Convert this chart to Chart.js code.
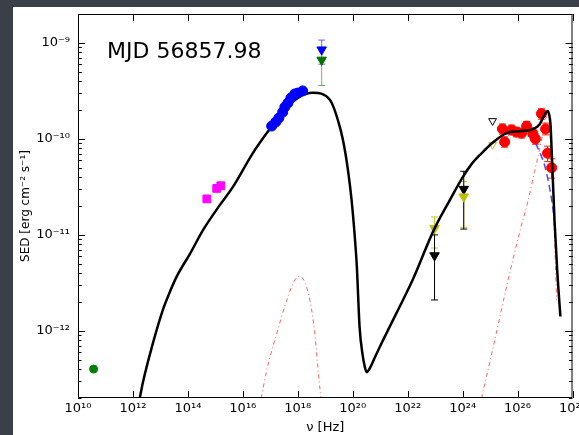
<!DOCTYPE html>
<html>
<head>
<meta charset="utf-8">
<script src="https://cdn.jsdelivr.net/npm/chart.js@4/dist/chart.umd.min.js"></script>
<style>
  html, body { margin: 0; padding: 0; background: #3b4048; }
  #wrap { width: 579px; height: 435px; }
</style>
</head>
<body>
<div id="wrap"><canvas id="chart" width="579" height="435"></canvas></div>
<script>
// ── Axes ─────────────────────────────────────────────────────────
const xTicks = [1e10, 1e12, 1e14, 1e16, 1e18, 1e20, 1e22, 1e24, 1e26, 1e28];
const yTicks = [1e-12, 1e-11, 1e-10, 1e-9];
const label  = "MJD 56857.98";

// ── Model curves (log10 nu, log10 SED) ───────────────────────────
const modelLogNu  = [12.25, 12.36, 12.73, 13.09, 13.35, 13.6, 14.07, 14.55, 15.16, 15.64, 16.36, 16.87, 17.45, 18.07, 18.55, 19.16, 19.53, 19.71, 19.85, 19.96, 20.07, 20.15, 20.25, 20.36, 20.44, 20.51, 20.62, 20.8, 20.98, 21.6, 22.18, 22.95, 23.53, 24.0, 24.36, 24.62, 25.09, 25.6, 26.07, 26.55, 26.8, 26.98, 27.09, 27.16, 27.2, 27.24, 27.35, 27.45, 27.56];
const modelLogSed = [-12.70, -12.54, -12.125, -11.78, -11.59, -11.43, -11.20, -10.95, -10.69, -10.5, -10.15, -9.94, -9.72, -9.56, -9.52, -9.59, -9.875, -10.11, -10.375, -10.64, -11.0, -11.33, -11.96, -12.25, -12.375, -12.43, -12.39, -12.28, -12.17, -11.81, -11.47, -10.95, -10.64, -10.40, -10.25, -10.17, -10.04, -9.94, -9.92, -9.9, -9.85, -9.75, -9.71, -9.76, -9.85, -10.11, -10.875, -11.4, -11.85];

const ecLowLogNu   = [16.67, 16.87, 17.24, 17.6, 17.89, 18.07, 18.25, 18.44, 18.62, 18.73, 18.84];
const ecLowLogSed  = [-12.70, -12.41, -12.02, -11.68, -11.47, -11.43, -11.49, -11.68, -12.02, -12.375, -12.70];
const ecHighLogNu  = [24.69, 25.09, 25.6, 26.07, 26.36, 26.62, 26.8, 26.95, 27.05, 27.13, 27.2, 27.27, 27.35, 27.42];
const ecHighLogSed = [-12.70, -12.2, -11.54, -10.98, -10.67, -10.34, -10.11, -9.9, -9.77, -9.78, -10.01, -10.43, -11.05, -11.68];
const sscLogNu     = [25.6, 25.89, 26.33, 26.62, 26.8, 26.98, 27.16, 27.27, 27.38];
const sscLogSed    = [-9.95, -9.93, -9.96, -10.03, -10.135, -10.27, -10.5, -10.69, -10.95];

// ── Observations ─────────────────────────────────────────────────
const radioNu = [3.7e10];
const radioSed = [4.0e-13];

const optNu  = [4.9e14, 1.12e15, 1.58e15];
const optSed = [2.37e-11, 3.05e-11, 3.25e-11];

const xrayNu  = [1.12e17, 1.58e17, 2.04e17, 2.82e17, 3.39e17, 4.37e17, 5.62e17, 7.76e17, 1.0e18, 1.51e18];
const xraySed = [1.36e-10, 1.5e-10, 1.65e-10, 1.9e-10, 2.15e-10, 2.37e-10, 2.67e-10, 2.94e-10, 3.0e-10, 3.16e-10];

const batNu = [7.4e18];
const batBlueSed = [8.5e-10],  batBlueLo = [6.0e-10],  batBlueHi = [1.07e-9];
const batGreenSed = [6.65e-10], batGreenLo = [3.6e-10], batGreenHi = [6.65e-10];

const latNu = [9.5e22, 1.1e24];
const latYellowSed = [1.17e-11, 2.5e-11], latYellowLo = [7.3e-12, 1.2e-11],  latYellowHi = [1.54e-11, 3.6e-11];
const latBlackSed  = [6.1e-12, 3.0e-11],  latBlackLo  = [2.1e-12, 1.15e-11], latBlackHi  = [1.0e-11, 4.6e-11];

const ulNu = [1.23e25];
const ulBlackSed = [1.54e-10];
const ulYellowSed = [8.7e-11];

const vhsNu  = [2.82e25, 3.39e25, 6.03e25, 9.12e25, 1.41e26, 2.14e26, 3.55e26, 4.47e26, 7.41e26, 1.05e27, 1.23e27, 1.74e27];
const vhsSed = [1.27e-10, 9.3e-11, 1.24e-10, 1.18e-10, 1.15e-10, 1.36e-10, 1.15e-10, 1.0e-10, 1.83e-10, 1.27e-10, 7.1e-11, 5.0e-11];
const vhsLo  = [1.12e-10, 8.2e-11, 1.1e-10, 1.05e-10, 1.02e-10, 1.2e-10, 1.0e-10, 8.8e-11, 1.6e-10, 1.1e-10, 5.8e-11, 3.9e-11];
const vhsHi  = [1.43e-10, 1.05e-10, 1.39e-10, 1.32e-10, 1.29e-10, 1.52e-10, 1.3e-10, 1.13e-10, 2.06e-10, 1.46e-10, 8.4e-11, 6.2e-11];
const vhsNuLo = [2.2e25, 2.6e25, 4.6e25, 7.0e25, 1.08e26, 1.64e26, 2.7e26, 3.4e26, 5.7e26, 8.1e26, 9.5e26, 1.35e27];
const vhsNuHi = [3.6e25, 4.4e25, 7.9e25, 1.19e26, 1.84e26, 2.8e26, 4.6e26, 5.8e26, 9.6e26, 1.36e27, 1.6e27, 2.25e27];

// ── Helpers ──────────────────────────────────────────────────────
const SUP = { "-": "\u207B", "0": "\u2070", "1": "\u00B9", "2": "\u00B2", "3": "\u00B3", "4": "\u2074",
              "5": "\u2075", "6": "\u2076", "7": "\u2077", "8": "\u2078", "9": "\u2079" };
function pow10Label(v) {
  const e = String(Math.round(Math.log10(v)));
  return "10" + e.split("").map(c => SUP[c]).join("");
}
const pts    = (xs, ys) => xs.map((x, i) => ({ x, y: ys[i] }));
const logPts = (xs, ys) => xs.map((x, i) => ({ x: Math.pow(10, x), y: Math.pow(10, ys[i]) }));

const FONT = "'DejaVu Sans', sans-serif";

// ── Plugins ──────────────────────────────────────────────────────
const panel = {
  id: "panel",
  beforeDraw(chart) {
    const ctx = chart.ctx;
    ctx.save();
    ctx.fillStyle = "#ffffff";
    ctx.fillRect(13, 7, chart.width - 13, chart.height - 7);
    ctx.restore();
  }
};

const errorBars = {
  id: "errorBars",
  beforeDatasetsDraw(chart) {
    const { ctx, chartArea, scales: { x, y } } = chart;
    ctx.save();
    ctx.beginPath();
    ctx.rect(chartArea.left, chartArea.top, chartArea.right - chartArea.left, chartArea.bottom - chartArea.top);
    ctx.clip();
    ctx.lineWidth = 1;
    chart.data.datasets.forEach(ds => {
      const e = ds.errBars;
      if (!e) return;
      ctx.strokeStyle = e.color;
      ds.data.forEach((p, i) => {
        const px = x.getPixelForValue(p.x);
        const py = y.getPixelForValue(p.y);
        if (e.lo) {
          const y1 = y.getPixelForValue(e.lo[i]), y2 = y.getPixelForValue(e.hi[i]);
          ctx.beginPath();
          ctx.moveTo(px, y1); ctx.lineTo(px, y2);
          ctx.moveTo(px - 3.5, y1); ctx.lineTo(px + 3.5, y1);
          ctx.moveTo(px - 3.5, y2); ctx.lineTo(px + 3.5, y2);
          ctx.stroke();
        }
        if (e.xlo) {
          const x1 = x.getPixelForValue(e.xlo[i]), x2 = x.getPixelForValue(e.xhi[i]);
          ctx.beginPath();
          ctx.moveTo(x1, py); ctx.lineTo(x2, py);
          ctx.stroke();
        }
      });
    });
    ctx.restore();
  }
};

const frame = {
  id: "frame",
  afterDatasetsDraw(chart) {
    const { ctx, chartArea: a, scales: { x, y } } = chart;
    ctx.save();
    ctx.strokeStyle = "#000";
    ctx.lineWidth = 1;
    ctx.strokeRect(a.left + 0.5, a.top + 0.5, a.right - a.left - 1, a.bottom - a.top - 1);
    ctx.beginPath();
    xTicks.forEach(v => {
      const px = Math.round(x.getPixelForValue(v)) + 0.5;
      ctx.moveTo(px, a.bottom); ctx.lineTo(px, a.bottom - 7);
      ctx.moveTo(px, a.top);    ctx.lineTo(px, a.top + 7);
    });
    yTicks.forEach(v => {
      for (let m = 1; m <= 9; m++) {
        [v * m, v * m / 10].forEach(t => {
          if (t < y.min || t > y.max) return;
          const py = Math.round(y.getPixelForValue(t)) + 0.5;
          const len = m === 1 ? 7 : 3.5;
          ctx.moveTo(a.left, py);  ctx.lineTo(a.left + len, py);
          ctx.moveTo(a.right, py); ctx.lineTo(a.right - len, py);
        });
      }
    });
    ctx.stroke();
    ctx.fillStyle = "#000";
    ctx.font = "22px " + FONT;
    ctx.textBaseline = "alphabetic";
    ctx.fillText(label, 107, 58);
    ctx.restore();
  }
};

// ── Chart ────────────────────────────────────────────────────────
const lineDs = (lbl, data, color, width, dash, order) => ({
  label: lbl, data, showLine: true, pointRadius: 0, borderColor: color,
  borderWidth: width, borderDash: dash, cubicInterpolationMode: "monotone", order
});
const markDs = (lbl, data, style, color, radius, order, errBars, fill) => ({
  label: lbl, data, pointStyle: style, pointRadius: radius, pointHoverRadius: radius,
  backgroundColor: fill || color, borderColor: color, borderWidth: 1,
  pointRotation: style === "triangle" ? 180 : 0, order, errBars
});

new Chart(document.getElementById("chart"), {
  type: "scatter",
  data: {
    datasets: [
      lineDs("Total model", logPts(modelLogNu, modelLogSed), "#000000", 2.5, [], 1),
      lineDs("EC (low)",  logPts(ecLowLogNu, ecLowLogSed), "rgba(255,40,40,0.75)", 1, [4, 3, 1, 3], 5),
      lineDs("EC (high)", logPts(ecHighLogNu, ecHighLogSed), "rgba(255,40,40,0.75)", 1, [4, 3, 1, 3], 5),
      lineDs("SSC", logPts(sscLogNu, sscLogSed), "rgba(40,40,255,0.85)", 1.5, [7, 4], 4),
      markDs("Radio", pts(radioNu, radioSed), "circle", "#008000", 4, 2),
      markDs("Optical", pts(optNu, optSed), "rect", "#ff00ff", 5.5, 2),
      markDs("X-ray", pts(xrayNu, xraySed), "circle", "#0000ff", 5, 0),
      markDs("BAT blue", pts(batNu, batBlueSed), "triangle", "#0000ff", 5.5, 2,
             { color: "rgba(0,0,255,0.6)", lo: batBlueLo, hi: batBlueHi }),
      markDs("BAT green", pts(batNu, batGreenSed), "triangle", "#007000", 5.5, 2,
             { color: "rgba(0,140,0,0.6)", lo: batGreenLo, hi: batGreenHi }),
      markDs("LAT yellow", pts(latNu, latYellowSed), "triangle", "#bfbf00", 5.5, 2,
             { color: "#c8c820", lo: latYellowLo, hi: latYellowHi }),
      markDs("LAT black", pts(latNu, latBlackSed), "triangle", "#000000", 5.5, 2,
             { color: "#000000", lo: latBlackLo, hi: latBlackHi }),
      markDs("UL black", pts(ulNu, ulBlackSed), "triangle", "#000000", 4.5, 2, null, "#ffffff"),
      markDs("UL yellow", pts(ulNu, ulYellowSed), "triangle", "#bfbf00", 4.5, 2, null, "#ffffff"),
      markDs("VHE", pts(vhsNu, vhsSed), "circle", "#ff0000", 5, 2,
             { color: "#ff2020", lo: vhsLo, hi: vhsHi, xlo: vhsNuLo, xhi: vhsNuHi })
    ]
  },
  options: {
    responsive: false,
    animation: false,
    layout: { padding: { left: 0, right: 6, top: 14, bottom: 0 } },
    plugins: { legend: { display: false }, tooltip: { enabled: false } },
    scales: {
      x: {
        type: "logarithmic", min: 1e10, max: 1e28,
        afterBuildTicks: s => { s.ticks = xTicks.map(v => ({ value: v })); },
        afterFit: s => { s.height = 37; s.paddingLeft = 0; s.paddingRight = 0; },
        grid: { display: false, drawTicks: false },
        border: { display: false },
        ticks: { callback: v => pow10Label(v), color: "#000", font: { family: FONT, size: 13 },
                 padding: 3, maxRotation: 0, autoSkip: false },
        title: { display: true, text: "\u03BD [Hz]", color: "#000", font: { family: FONT, size: 13 },
                 padding: { top: 0, bottom: 0 } }
      },
      y: {
        type: "logarithmic", min: 2e-13, max: 2e-9,
        afterBuildTicks: s => { s.ticks = yTicks.map(v => ({ value: v })); },
        afterFit: s => { s.width = 78; s.paddingTop = 0; s.paddingBottom = 0; },
        grid: { display: false, drawTicks: false },
        border: { display: false },
        ticks: { callback: v => pow10Label(v), color: "#000", font: { family: FONT, size: 13 },
                 padding: 8, autoSkip: false },
        title: { display: true, text: "SED [erg cm\u207B\u00B2 s\u207B\u00B9]", color: "#000",
                 font: { family: FONT, size: 12 }, padding: { top: 19, bottom: 0 } }
      }
    }
  },
  plugins: [panel, errorBars, frame]
});
</script>
</body>
</html>
